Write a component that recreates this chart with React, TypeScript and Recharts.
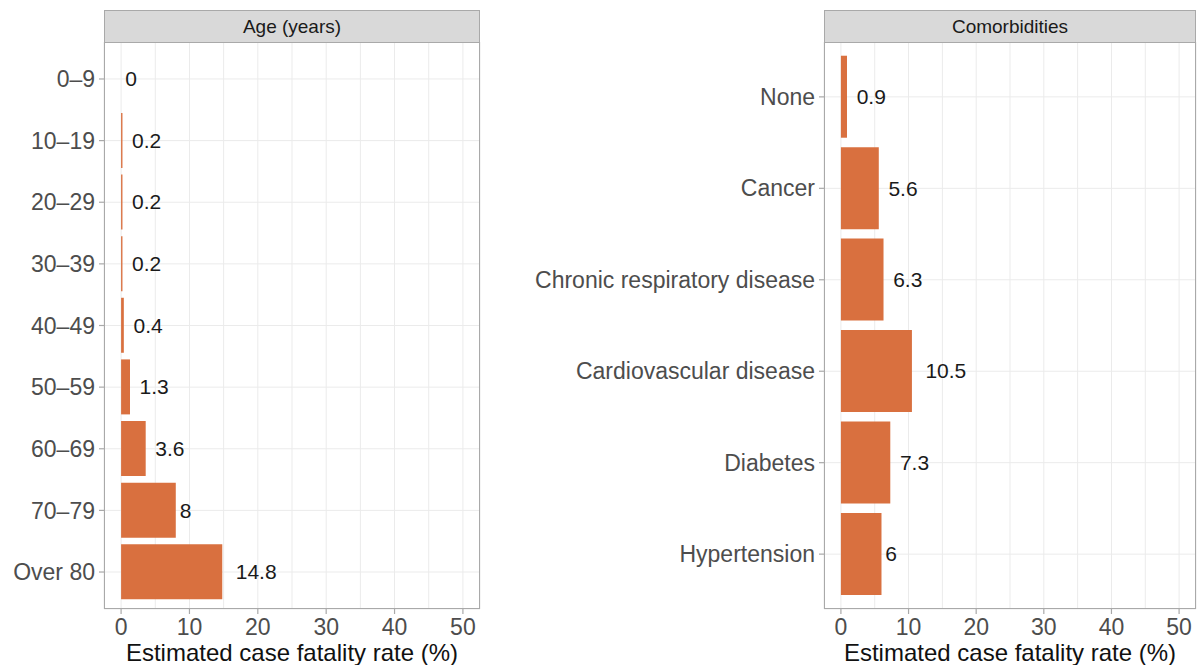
import React from "react";
import { BarChart, Bar, XAxis, YAxis, CartesianGrid, LabelList, Cell } from "recharts";

const ageGroups = ["0–9", "10–19", "20–29", "30–39", "40–49", "50–59", "60–69", "70–79", "Over 80"];
const ageCfr = [0, 0.2, 0.2, 0.2, 0.4, 1.3, 3.6, 8, 14.8];

const comorbidities = ["None", "Cancer", "Chronic respiratory disease", "Cardiovascular disease", "Diabetes", "Hypertension"];
const comorbidityCfr = [0.9, 5.6, 6.3, 10.5, 7.3, 6];

const xTicks = [0, 5, 10, 15, 20, 25, 30, 35, 40, 45, 50];
const majorTicks = [0, 10, 20, 30, 40, 50];

const FONT = '"Liberation Sans", Arial, Helvetica, sans-serif';
const BAR = "#d9703f";
const BORDER = "#a9a9a9";
const GRID = "#ebebeb";

// glyph width guess (em) for the value labels, used for the hjust-like offset
const textWidth = (s: string, size: number) =>
  s.split("").reduce((w, c) => w + (c === "." ? 0.278 : 0.556), 0) * size;

const ValueLabel = (props: any) => {
  const { x, y, width, height, value } = props;
  const txt = String(value);
  const size = 21;
  const lx = x + Math.max(width, 0) + textWidth(txt, size) * 0.33;
  return (
    <text x={lx} y={y + height / 2} dy="0.35em" fontSize={size} fill="#1a1a1a" fontFamily={FONT}>
      {txt}
    </text>
  );
};

const XTick = (props: any) => {
  const { x, y, payload } = props;
  if (!majorTicks.includes(payload.value)) return null;
  return (
    <g>
      <line x1={x} x2={x} y1={y - 8} y2={y - 3} stroke={BORDER} strokeWidth={1.2} />
      <text x={x} y={y} dy="0.8em" textAnchor="middle" fontSize={23} fill="#4d4d4d" fontFamily={FONT}>
        {payload.value}
      </text>
    </g>
  );
};

type PanelProps = {
  title: string;
  cats: string[];
  vals: number[];
  left: number;
  width: number;
  axisWidth: number;
};

function Panel({ title, cats, vals, left, width, axisWidth }: PanelProps) {
  const data = cats.map((name, i) => ({ name, cfr: vals[i] }));
  const top = 42;
  const bottomAxis = 56;
  const plotH = 665 - top - bottomAxis;
  const step = plotH / (cats.length - 1 + 1.2);
  const plotW = width - axisWidth - 2;
  return (
    <div style={{ position: "absolute", left, top: 0, width, height: 665 }}>
      <BarChart
        width={width}
        height={665}
        data={data}
        layout="vertical"
        margin={{ top, right: 2, bottom: 0, left: 0 }}
        barCategoryGap="5%"
      >
        <CartesianGrid stroke={GRID} strokeWidth={1} />
        <XAxis
          type="number"
          domain={[-2.5, 52.5]}
          ticks={xTicks}
          allowDataOverflow
          height={bottomAxis}
          axisLine={false}
          tickLine={false}
          tickSize={5}
          tickMargin={3}
          interval={0}
          tick={<XTick />}
          label={{
            value: "Estimated case fatality rate (%)",
            position: "insideBottom",
            offset: 4,
            fontSize: 24,
            fill: "#111",
            fontFamily: FONT,
          }}
        />
        <YAxis
          type="category"
          dataKey="name"
          width={axisWidth}
          axisLine={false}
          tickLine={{ stroke: BORDER, strokeWidth: 1.2 }}
          tickSize={5}
          tickMargin={4}
          interval={0}
          padding={{ top: step * 0.1, bottom: step * 0.1 }}
          tick={{ fill: "#4d4d4d", fontSize: 23, fontFamily: FONT }}
        />
        <Bar dataKey="cfr" fill={BAR} minPointSize={0.3} isAnimationActive={false}>
          {data.map((d, i) => (
            <Cell key={i} fill={BAR} fillOpacity={d.cfr === 0 ? 0 : 1} />
          ))}
          <LabelList dataKey="cfr" content={<ValueLabel />} />
        </Bar>
      </BarChart>
      <div
        style={{
          position: "absolute",
          left: axisWidth,
          top: top,
          width: plotW,
          height: plotH,
          border: `1.5px solid ${BORDER}`,
          boxSizing: "border-box",
          pointerEvents: "none",
        }}
      />
      <div
        style={{
          position: "absolute",
          left: axisWidth,
          top: 10,
          width: plotW,
          height: top - 10 + 1,
          background: "#d9d9d9",
          border: `1.5px solid ${BORDER}`,
          boxSizing: "border-box",
          fontFamily: FONT,
          fontSize: 19,
          color: "#1a1a1a",
          display: "flex",
          alignItems: "center",
          justifyContent: "center",
        }}
      >
        {title}
      </div>
    </div>
  );
}

export default function App() {
  return (
    <div style={{ position: "absolute", left: 0, top: 0, width: 1198, height: 665, background: "#fff" }}>
      <Panel title="Age (years)" cats={ageGroups} vals={ageCfr} left={0} width={482} axisWidth={104} />
      <Panel title="Comorbidities" cats={comorbidities} vals={comorbidityCfr} left={500} width={698} axisWidth={324} />
    </div>
  );
}
